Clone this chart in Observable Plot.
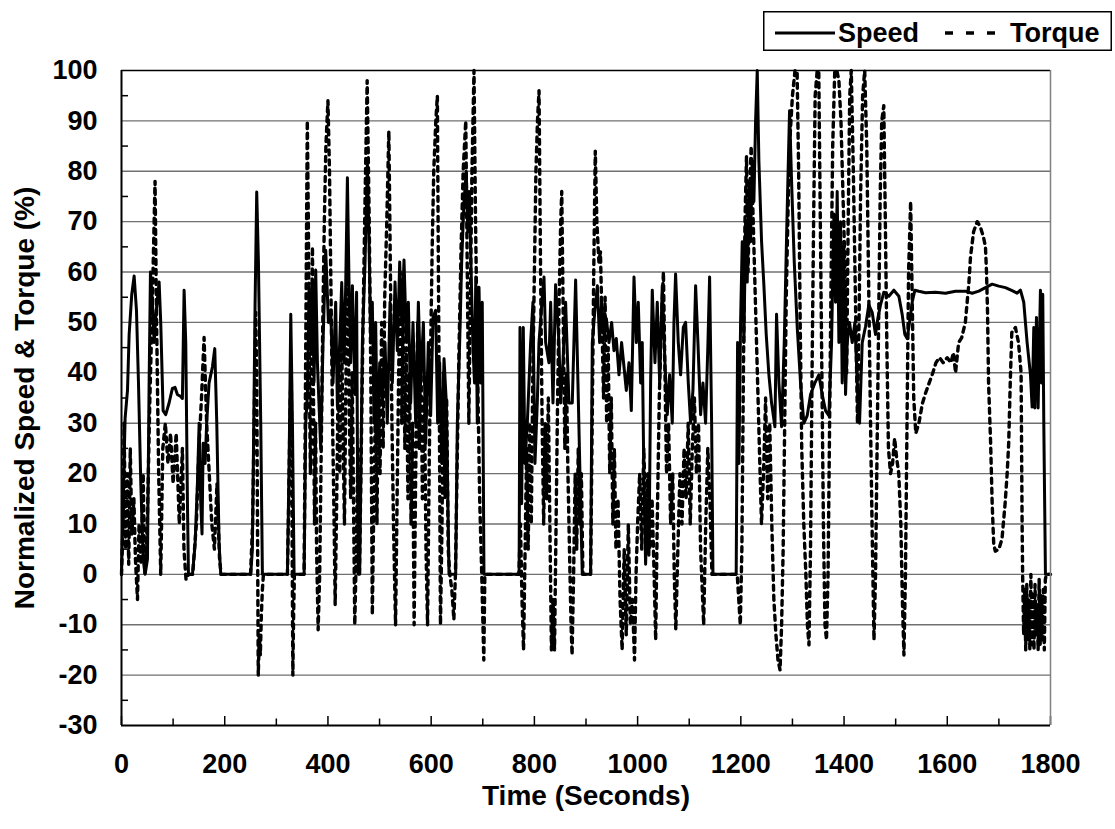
<!DOCTYPE html>
<html><head><meta charset="utf-8">
<script src="https://cdn.jsdelivr.net/npm/d3@7"></script>
<script src="https://cdn.jsdelivr.net/npm/@observablehq/plot@0.6"></script>
<style>
body{margin:0;background:#fff;}
#wrap{position:relative;width:1115px;height:829px;}
#legend{position:absolute;left:763px;top:11px;}
</style></head><body><div id="wrap"><div id="chart"></div>
<svg id="legend" width="350" height="41" font-family="'Liberation Sans',Arial,sans-serif" font-weight="bold" font-size="27">
<rect x="0.75" y="0.75" width="347.5" height="38.5" fill="#fff" stroke="#000" stroke-width="1.5"/>
<line x1="12" x2="72" y1="22" y2="22" stroke="#000" stroke-width="3"/>
<text x="75" y="31">Speed</text>
<line x1="182" x2="234" y1="22" y2="22" stroke="#000" stroke-width="3.5" stroke-dasharray="8,13"/>
<text x="247" y="31">Torque</text>
</svg></div>
<script>
const speed = [
[0,0],[3,14],[7,31],[11.6,36.5],[14.8,47.6],[19.9,55.6],[24.5,59.2],[29,52.4],[32.9,38],[37.4,18],[42,3],[45.8,0],[50.3,3],[53.5,38],[56.1,60],[60,54],[63.2,46],[67,52],[72.9,58],[76,50],[80.6,32.5],[85.7,31.7],[92.2,34],[98.6,36.9],[103.8,37.1],[108.3,35.7],[114.7,35.3],[118,34.9],[121.3,56.4],[124.5,46],[127.8,14],[129.7,0],[137.5,0],[142.6,6],[147.1,18],[150.4,30],[153.6,14],[156,8],[158.2,26],[162,22],[165,30],[169.7,38],[176.2,41.2],[180.7,44.8],[184.6,30],[189.1,6],[192.3,0],
[250.4,0],[253.6,5],[258.8,53.5],[262,75.9],[265.3,62],[269.8,30],[273,0],[321.5,0],[324.7,22],[328,51.6],[331.2,30],[334.4,0],[353.8,0],
[357,30],[360.2,35.7],[363.4,57.3],[366.7,44.6],[369.9,57.3],[373.1,38.2],[376.3,60.4],[379.6,42],[386,24.9],[390.5,46],[395.7,64.3],[400.9,50],[405.4,52.4],[409.9,38],[415,54],[418.3,33.3],[422.8,46],[426.7,57.9],[431.2,42],[434.4,57.3],[437.7,78.7],[440.9,57.3],[444,42],[447.4,57.3],[452.5,35.7],[455.5,56],[458.5,0],[461.5,0],
[466.7,46],[471.9,62],[476.4,81.4],[479.6,66],[482.9,46],[486,54],[489.3,30],[492.5,50],[495.8,26],[500.3,42],[505.4,34],[510.6,46],[515,30],[520.3,54],[524.8,38],[530,58],[534.5,44.4],[539,62],[543,50],[547.4,62.4],[552,46],[555.8,54],[560.3,34],[564.8,50],[570,30],[575.2,54],[579.7,38],[584.9,50],[589.4,26],[594.5,46],[599,31.5],[603.6,51],[608.7,52.4],[612.6,30],[616.5,42],[620.4,22],[624.9,42.8],[629.4,34],[634.6,0],[647.5,0],[650.7,30],[655.2,46],[659.1,62],[663.6,74],[668,80],[671,68],[674,76],[677,62],[681,45],[684,38],[686.5,59],[689.4,30],[692.7,57],[696,38],[699,54],[702.3,0],[770.4,0],
[772.1,49],[775.3,14],[778.5,49],[781.7,22],[786.3,30],[792.7,46],[797.2,54],[801.1,22],[805.6,34],[808.9,46],[815.3,55],[818.6,59],[821.8,46],[828.2,42],[831.5,54],[836,34],[841.1,57.5],[847.6,46],[850.8,34],[855.3,42],[860.5,54],[867,34],[873.4,34],[879.9,58.4],[884.4,38],[889.6,14],[892.8,0],[908.9,0],[912.2,46],[917.3,52.5],
[922,57.3],[926.4,46],[930.3,54],[934.8,47.6],[939.4,50.8],[944.5,46],[949.7,50],[954.2,44.4],[958.7,46.8],[963.9,39.6],[969,46],[973.6,41.2],[978.1,36.5],[983.3,42],[987.8,32.5],[993,59],[997.5,46],[1001.3,54],[1005.9,38],[1009,46],[1012.3,18],[1015.5,2],[1018.8,14],[1022,3.8],[1025.2,38],[1028.4,56.4],[1033.6,42],[1038.1,54],[1042.7,38],[1047.8,57.3],[1053,42],[1057.5,31.7],[1062,39.6],[1067.2,30],[1070.4,50],[1073.6,59.6],[1078.8,46],[1083.3,39.6],[1088.5,49],[1093,50],[1098.2,38],[1102.7,30],[1107.2,36.5],[1112.4,57.3],[1116.9,46],[1122.1,31.7],[1126.6,38],[1131.7,30],[1136.3,46],[1139.5,59],[1143.4,30],[1146,0],[1191,0],
[1193.7,46],[1196.3,22],[1199.5,50],[1202.7,66],[1206,46],[1209.2,70],[1212.4,58],[1215.7,78],[1218.9,66],[1222.1,82],[1225.3,74],[1228.6,90],[1231.8,100],[1235,82],[1240.2,66],[1244.7,57.3],[1249.2,47.6],[1254.4,39.6],[1259.6,34],[1266,29.3],[1269.2,51.6],[1273.8,38],[1278.9,29.3],[1284.1,46],[1289.3,70],[1294.4,92],[1298.3,78],[1303.5,62],[1309.3,49],[1315.7,38],[1322.2,30],[1328.6,31.5],[1335.1,35.7],[1343.5,38],[1351.2,39.6],[1357.7,35.7],[1364.1,32.5],[1370.6,31.5],[1375.8,46],[1380.3,71.5],[1383.5,54],[1386.7,76],[1390,46],[1393.2,70],[1396.4,38],[1399.6,66],[1402.9,35.7],[1406.1,46],[1410.6,50],[1415.8,46],[1421,50],[1425.5,38],[1430,30],[1435.2,46],[1441.6,49.2],[1448,53.5],[1454.5,52],[1461,47.6],[1465.5,50.8],[1470.7,53.5],[1477.1,56],[1486.8,55.2],[1496.5,56.4],[1506.2,55.2],[1512.6,51.6],[1517.8,47.6],[1522.3,46.8],[1526.8,50],[1532,54],[1537.2,56.4],[1544.9,56.2],[1557.8,55.9],[1577.2,56],[1596.5,55.8],[1615.9,56.2],
[1635.3,56.2],[1648.2,55.8],[1661.1,56.2],[1674,56.9],[1687,57.6],[1699.8,57.2],[1712.7,56.9],[1725.7,56.3],[1735.3,55.8],[1741.8,56.4],[1748.2,54],[1754.7,46],[1761.2,39.6],[1764.4,33.2],[1767.6,49],[1769.6,33],[1772.8,51],[1776,33],[1780.5,56.4],[1782.5,38],[1785,55.6],[1787,30],[1790.2,0],[1800,0]
];
const torque = [
[0,0],[3,10],[5,30],[8,5],[11,20],[14,2],[17,25],[20,8],[24,15],[27,3],[31,-5],[34,10],[38,2],[42,20],[45,0],[50,10],[55,35],[60,55],[65,78],[68,50],[72,20],[76,0],[80,25],[85,30],[90,22],[95,28],[100,18],[106,28],[112,10],[118,25],[121,5],[125,-1],[130,0],[138,0],[145,10],[150,25],[155,35],[160,47],[165,30],[170,20],[175,10],[180,5],[185,18],[190,3],[193,0],
[250,0],[254,10],[257,30],[260,52],[262,40],[263.5,10],[265,-20],[267,-12],[269,-16],[271,-8],[273,-3],[275,0],[321.5,0],[324,15],[327,35],[329,40],[330.5,10],[332,-20],[333.5,-8],[335,0],[353.8,0],
[356,30],[358,60],[360,90],[362,70],[364,40],[366,20],[368,45],[370,65],[372,35],[374,10],[376,30],[378,5],[381,-11],[384,0],[387,25],[390,50],[393,70],[396,85],[400,94],[403,80],[406,55],[409,30],[412,10],[414,-6],[417,15],[420,40],[423,20],[426,50],[429,30],[432,10],[435,40],[438,60],[441,35],[444,15],[447,40],[450,10],[452,-10],[455,5],[458,25],[461,0],
[464,20],[468,50],[472,75],[476,98],[480,70],[483,40],[486,-8],[489,15],[492,35],[495,10],[498,40],[501,20],[504,50],[507,25],[510,55],[514,70],[518,88],[521,60],[524,30],[527,10],[531,-10],[534,15],[537,40],[540,60],[543,30],[546,55],[549,25],[552,45],[555,15],[558,40],[561,10],[564,30],[567,-10],[570,20],[574,50],[577,25],[580,45],[583,15],[587,35],[590,5],[593,-10],[596,20],[599,45],[602,65],[605,80],[609,90],[612,95],[614,60],[616,30],[618,-10],[621,10],[624,40],[627,15],[630,35],[633,5],[636,0],[640,-3],[644,-9],[647,0],[650,20],[654,45],[658,65],[662,80],[667,90],[670,60],[673,30],[676,55],[679,80],[683,100],[686,70],[690,40],[694,15],[698,0],[702,-17],[704,0],[770,0],
[773,10],[776,-5],[779,-15],[782,5],[785,25],[788,5],[791,30],[794,10],[797,40],[800,60],[803,80],[806,90],[809,96],[812,60],[815,30],[818,10],[821,30],[824,15],[827,35],[830,10],[833,-15],[836,-5],[839,-15],[842,10],[845,35],[848,55],[851,70],[853,76],[856,50],[859,25],[862,40],[865,20],[868,5],[871,-10],[873,-16],[876,0],[879,20],[882,5],[885,25],[888,10],[891,20],[894,0],[909,0],[912,30],[915,60],[918,84],
[921,70],[925,62],[928,64],[931,50],[934,35],[937,55],[940,30],[943,45],[946,20],[949,35],[952,10],[955,25],[958,5],[962,15],[966,-5],[970,-15],[974,5],[978,-12],[982,10],[986,-10],[990,-5],[994,-17],[997,0],[1000,10],[1004,20],[1008,5],[1012,25],[1016,10],[1020,20],[1024,5],[1028,15],[1032,0],[1035,-13],[1038,10],[1042,35],[1046,50],[1050,60],[1053,40],[1056,20],[1060,30],[1064,10],[1068,20],[1071,0],[1074,-11],[1078,5],[1082,20],[1086,10],[1090,25],[1094,15],[1098,30],[1102,10],[1106,25],[1110,35],[1114,20],[1118,30],[1122,5],[1126,-5],[1128,-10],[1132,10],[1136,25],[1140,15],[1144,0],[1193,0],
[1196,-5],[1199,-10],[1202,5],[1205,40],[1208,70],[1211,83],[1214,60],[1217,75],[1220,85],[1224,70],[1228,55],[1232,40],[1236,25],[1240,10],[1244,20],[1248,35],[1252,15],[1256,30],[1260,10],[1264,-5],[1268,-12],[1272,-17],[1276,-19],[1279,-10],[1282,5],[1285,30],[1288,55],[1292,75],[1296,88],[1300,95],[1305,100],[1309,100],[1312,80],[1315,50],[1318,25],[1322,10],[1326,0],[1329,-10],[1332,-14],[1335,5],[1338,40],[1341,70],[1344,95],[1348,100],[1351,100],[1354,70],[1357,40],[1360,10],[1363,-10],[1366,-13],[1369,0],[1372,30],[1375,60],[1378,85],[1382,100],[1386,100],[1390,98],[1394,90],[1398,75],[1402,60],[1405,40],[1408,70],[1411,95],[1414,100],[1418,80],[1422,55],[1426,30],[1429,50],[1432,75],[1436,95],[1440,100],[1444,85],[1448,55],[1452,25],[1455,5],[1458,-13],[1461,0],[1464,25],[1467,50],[1470,75],[1473,90],[1477,93],[1480,70],[1483,45],[1486,25],[1490,20],[1494,22],[1498,27],[1502,23],[1506,20],[1510,10],[1513,-5],[1516,-16],[1519,0],[1522,30],[1525,60],[1529,74],[1532,55],[1535,35],[1539,28],[1545,30],[1552,34],[1558,36],[1565,38],[1572,40],[1578,42],[1585,43],[1592,42],[1600,43],[1607,42],[1612,44],[1616,40],[1622,46],[1628,47],[1635,50],[1642,58],[1645,63],[1651,68],[1658,70],[1664,69],[1670,67],[1674,65],[1676,60],[1678,52],[1680,38],[1684,26],[1687,14],[1690,6],[1693,4.6],[1700,5],[1706,7],[1712,14],[1716,20],[1719,26],[1722,38],[1725,48],[1732,49],[1738,46],[1743,40],[1745,10],[1746,0],[1748,-12],[1750,-3],[1752,-15],[1754,-2],[1756,-13],[1758,-5],[1760,-15],[1762,0],[1764,-14],[1766,-4],[1768,-15],[1770,-2],[1772,-12],[1774,-6],[1776,-15],[1778,-1],[1780,-14],[1782,-4],[1784,-13],[1786,-3],[1788,-15],[1790,-1],[1792,0],[1800,0]
];
const yTicks = d3.range(-30, 101, 10);
const yMinor = d3.range(-25, 100, 10);
const gridValues = d3.range(-20, 100, 10);
const xTicks = d3.range(0, 1801, 200);
const xMinor = d3.range(100, 1800, 200);
const xTitle = "Time (Seconds)";
const yTitle = "Normalized Speed & Torque (%)";

const toRows = (arr) => arr.map(([t, v]) => ({t, v}));
const font = "'Liberation Sans', Arial, sans-serif";
const blank = () => "";
const plain = (d) => String(d);

const chart = Plot.plot({
  width: 1115, height: 829,
  marginLeft: 121, marginRight: 65, marginTop: 70, marginBottom: 104,
  x: {domain: [0, 1800]},
  y: {domain: [-30, 100]},
  style: {fontFamily: font, fontSize: "27px", fontWeight: "bold", color: "#000", background: "#fff", overflow: "visible"},
  marks: [
    Plot.ruleY(gridValues, {stroke: "#707070", strokeWidth: 1.4}),
    Plot.axisY(yTicks, {tickSize: 0, tickPadding: 24, tickFormat: plain, label: null}),
    Plot.axisY(yMinor, {tickSize: -7, tickFormat: blank, label: null, strokeWidth: 1.5}),
    Plot.axisX(xTicks, {tickSize: 0, tickPadding: 28, tickFormat: plain, label: null}),
    Plot.axisX(xTicks, {tickSize: -9, tickFormat: blank, label: null, strokeWidth: 1.5}),
    Plot.axisX(xMinor, {tickSize: -6.5, tickFormat: blank, label: null, strokeWidth: 1.5}),
    Plot.line(toRows(torque), {x: "t", y: "v", stroke: "#000", strokeWidth: 3.4, strokeDasharray: "5,5", strokeLinejoin: "round"}),
    Plot.line(toRows(speed), {x: "t", y: "v", stroke: "#000", strokeWidth: 3, strokeLinejoin: "round"}),
    Plot.ruleY([100], {stroke: "#000", strokeWidth: 1.5}),
    Plot.ruleX([1800], {stroke: "#808080", strokeWidth: 1.5}),
    Plot.ruleX([0], {stroke: "#000", strokeWidth: 2}),
    Plot.ruleY([-30], {stroke: "#000", strokeWidth: 2}),
    Plot.text([xTitle], {frameAnchor: "bottom", dy: 79, lineAnchor: "bottom", textAnchor: "middle", fontSize: 28, fontWeight: "bold"}),
    Plot.text([yTitle], {frameAnchor: "left", dx: -88, rotate: -90, lineAnchor: "bottom", textAnchor: "middle", fontSize: 28, fontWeight: "bold"})
  ]
});
document.getElementById("chart").appendChild(chart);
</script></body></html>
